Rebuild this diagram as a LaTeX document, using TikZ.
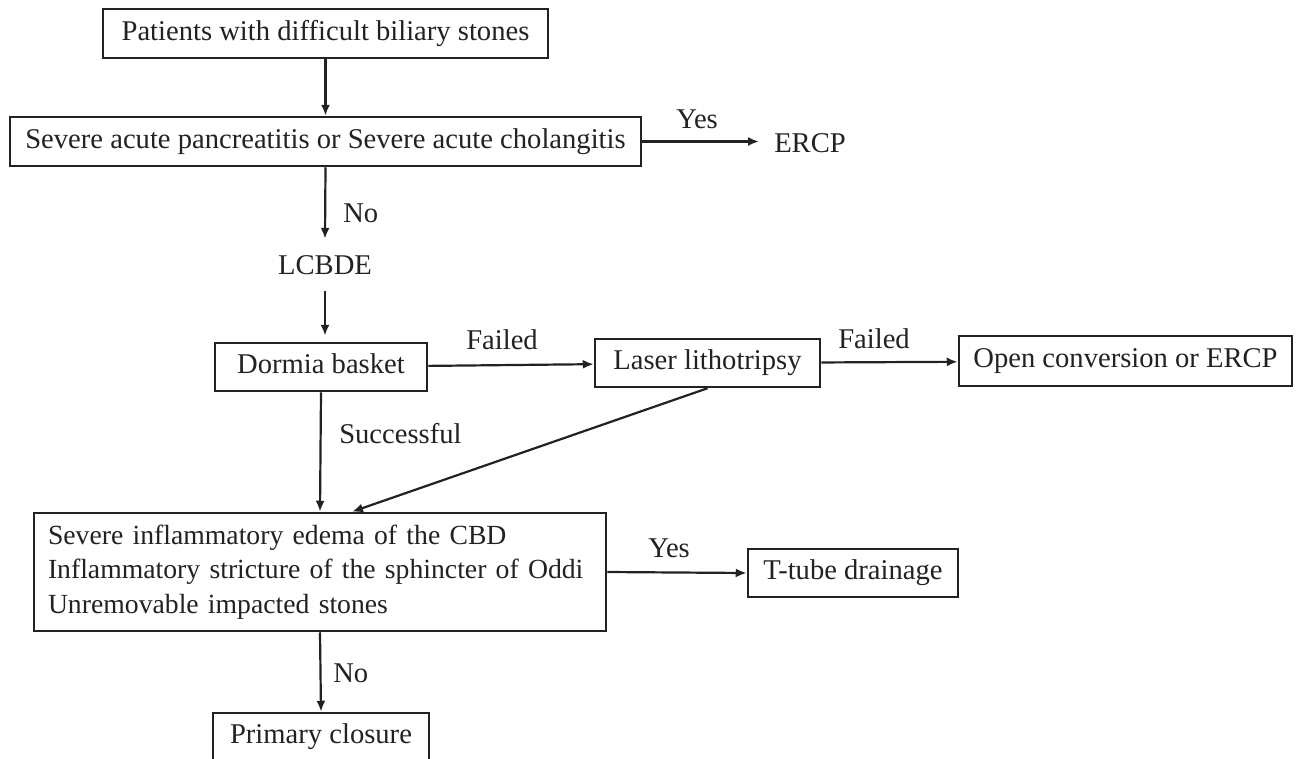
\documentclass[tikz,border=0pt]{standalone}
\usepackage{fontspec}
\setmainfont{Liberation Serif}
\usetikzlibrary{arrows.meta}
\definecolor{ink}{HTML}{222222}
\begin{document}
\begin{tikzpicture}[x=1pt, y=-1pt, line width=2.5pt, draw=ink, text=ink,
  every node/.style={font=\fontsize{28.6}{34.5}\selectfont}]
\tikzstyle{bloc} = [draw=ink, rectangle, line width=2.5pt, inner sep=0pt, text height=19.5pt, text depth=6.2pt];
\tikzstyle{lbl} = [inner sep=0pt, anchor=base west];
\tikzstyle{fleche} = [draw=ink, line width=2.2pt, -{Latex[length=11pt,width=9pt]}];
\useasboundingbox[fill=white] (0,0) rectangle (1296,758);

\node[bloc, minimum width=445pt, minimum height=49pt] (patients) at (325.5,33.5) {Patients with difficult biliary stones};
\node[bloc, minimum width=631pt, minimum height=49pt] (severe) at (325.5,141.5) {Severe acute pancreatitis or Severe acute cholangitis};
\node[lbl] (ercp) at (773,152) {ERCP};
\node[inner xsep=0pt, inner ysep=15pt, anchor=base] (lcbde) at (325,274) {LCBDE};
\node[bloc, minimum width=212pt, minimum height=48pt] (dormia) at (321,367) {Dormia basket};
\node[bloc, minimum width=225pt, minimum height=48pt] (laser) at (707.5,363) {Laser lithotripsy};
\node[bloc, minimum width=333pt, minimum height=50pt] (open) at (1125.5,361) {Open conversion or ERCP};
\node[bloc, text height=, text depth=, minimum height=118pt, text width=544pt, inner xsep=14pt, align=left,
  font=\fontsize{27.7}{34.5}\selectfont] (criteres) at (320,572)
  {\mbox{Severe inflammatory edema of the CBD}\\\mbox{Inflammatory stricture of the sphincter of Oddi}\\\mbox{Unremovable impacted stones}};
\node[bloc, minimum width=210pt, minimum height=48pt] (ttube) at (853,573) {T-tube drainage};
\node[bloc, minimum width=216pt, minimum height=48pt] (primary) at (321,737) {Primary closure};

\node[lbl] (yes1) at (675,128) {Yes};
\node[lbl] (no1) at (342,222) {No};
\node[lbl] (failed1) at (465,349) {Failed};
\node[lbl] (failed2) at (837,348) {Failed};
\node[lbl] (successful) at (338,443) {Successful};
\node[lbl] (yes2) at (647,557) {Yes};
\node[lbl] (no2) at (332,682) {No};

\draw[fleche] (patients) -- (severe);
\draw[fleche, shorten >=14pt] (severe.east) -- (severe.east -| ercp.west);
\draw[fleche] (severe.south) -- (lcbde.north);
\draw[fleche, shorten >=6pt] (lcbde.south) -- (lcbde.south |- dormia.north);
\draw[fleche] (dormia) -- (laser);
\draw[fleche] (laser) -- (open);
\draw[fleche] (dormia.south) -- (criteres.north);
\draw[fleche] (laser.south) -- ([xshift=32pt]criteres.north);
\draw[fleche] (criteres.east) -- (ttube.west);
\draw[fleche] (criteres.south) -- (primary.north);
\end{tikzpicture}
\end{document}
